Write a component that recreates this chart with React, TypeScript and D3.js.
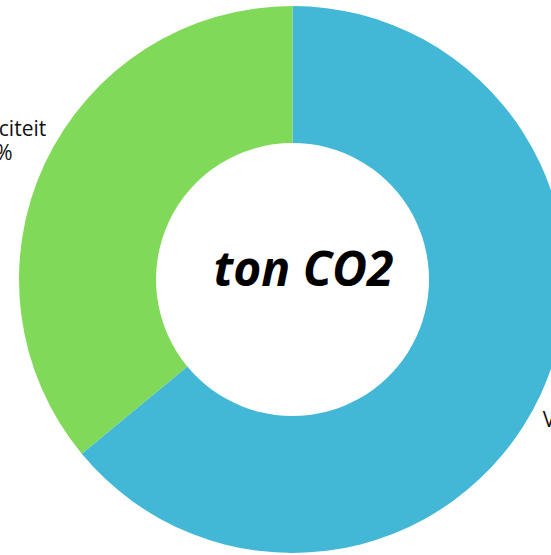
import React from "react";
import * as d3 from "d3";

const categories = ["Verwarming", "Elektriciteit"];
const values = [64, 36];
const percentLabels = ["64%", "36%"];
const colors = ["#42B7D6", "#80D958"];
const centerTitle = "ton CO2";

const W = 551;
const H = 555;
const cx = 292.5;
const cy = 279.5;
const outerR = 273.5;
const innerR = 136.5;
const labelR = 330;
const labelShift: [number, number][] = [
  [11, 13],
  [-2, 3],
];

export default function App() {
  const pie = d3.pie<number>().sort(null).value((d) => d);
  const arcs = pie(values);
  const arc = d3.arc<d3.PieArcDatum<number>>().innerRadius(innerR).outerRadius(outerR);
  const labelArc = d3.arc<d3.PieArcDatum<number>>().innerRadius(labelR).outerRadius(labelR);

  return (
    <svg
      width={W}
      height={H}
      style={{ position: "absolute", left: 0, top: 0, overflow: "hidden", background: "#fff" }}
      fontFamily="'Open Sans', sans-serif"
    >
      <g transform={`translate(${cx},${cy})`}>
        {arcs.map((a, i) => (
          <path key={i} d={arc(a) || ""} fill={colors[i]} />
        ))}
        {arcs.map((a, i) => {
          const [px, py] = labelArc.centroid(a);
          const lx = px + labelShift[i][0];
          const ly = py + labelShift[i][1];
          return (
            <text key={"l" + i} x={lx} y={ly} textAnchor="middle" fontSize={21} fill="#111">
              <tspan x={lx} dy={-6}>{categories[i]}</tspan>
              <tspan x={lx} dy={24}>{percentLabels[i]}</tspan>
            </text>
          );
        })}
      </g>
      <text
        x={303.5}
        y={286}
        textAnchor="middle"
        fontSize={48}
        fontWeight="bold"
        fontStyle="italic"
        fill="#000"
      >
        {centerTitle}
      </text>
    </svg>
  );
}
